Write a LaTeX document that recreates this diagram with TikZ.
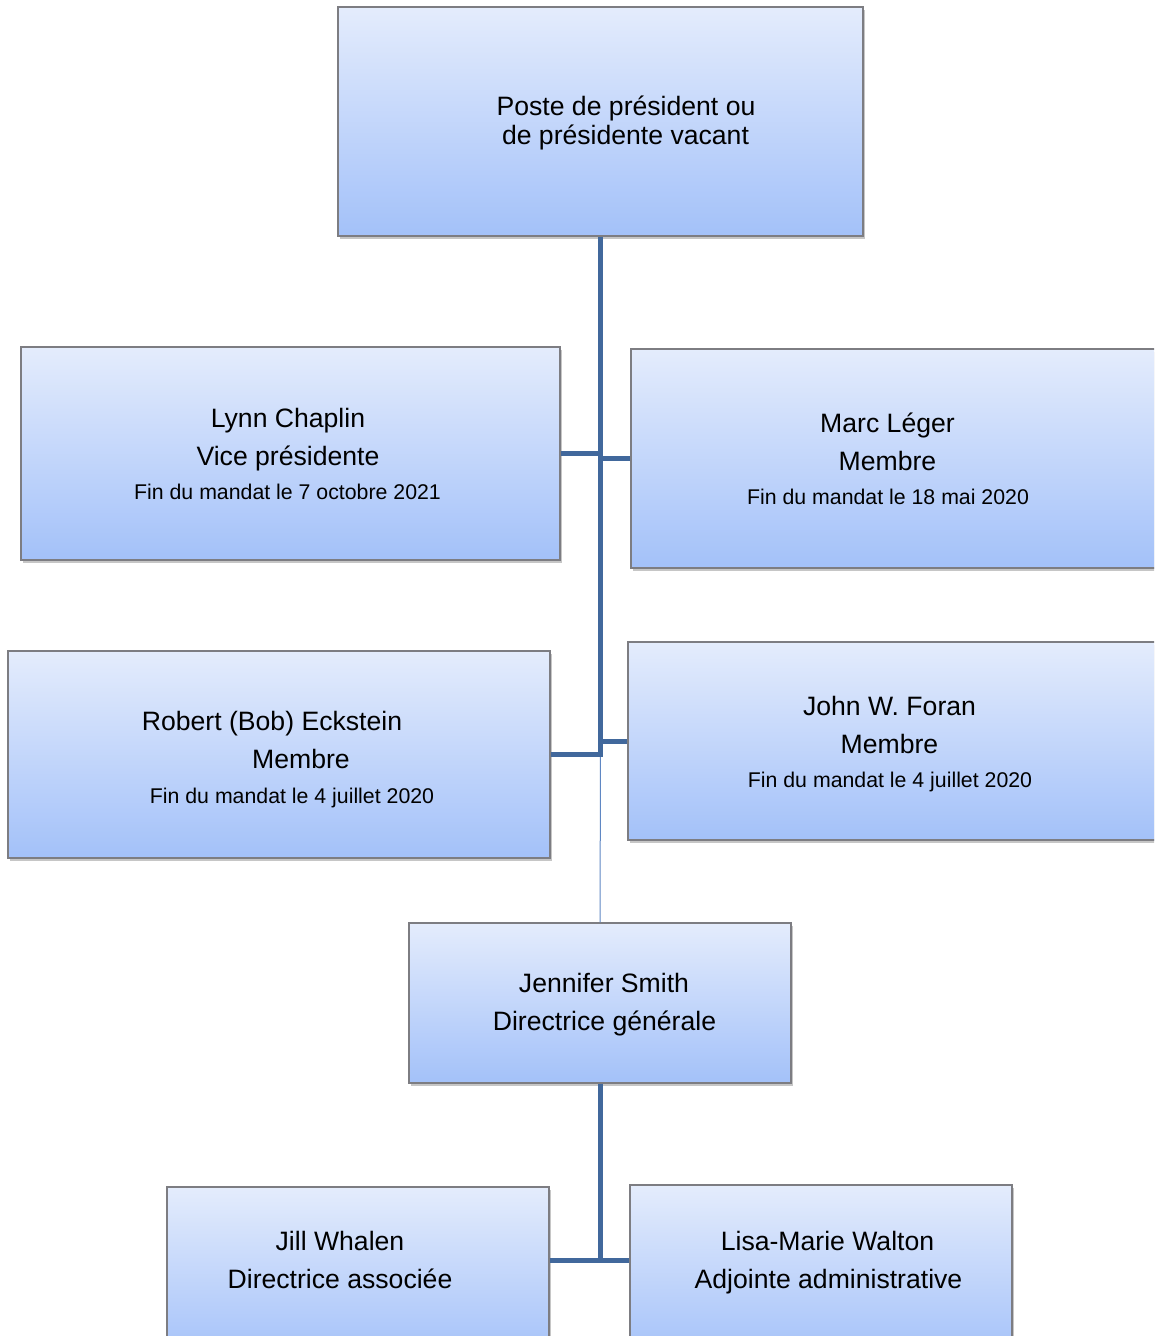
\documentclass[tikz,border=0pt]{standalone}
\usepackage{fontspec}
\setmainfont{Liberation Sans}
\usetikzlibrary{shadows}
\definecolor{linkblue}{RGB}{65,104,156}
\definecolor{thinblue}{RGB}{95,135,195}
\definecolor{boxtop}{RGB}{228,236,252}
\definecolor{boxbot}{RGB}{163,193,249}
\definecolor{boxedge}{RGB}{125,125,130}
\begin{document}
\begin{tikzpicture}[x=1pt,y=-1pt,
  orgbox/.style={draw=boxedge, line width=1.2pt, top color=boxtop, bottom color=boxbot,
    drop shadow={shadow xshift=2pt, shadow yshift=-2.5pt, opacity=0.45}, inner sep=0pt},
  big/.style={font=\fontsize{26.6}{29}\selectfont, inner sep=0pt, anchor=base},
  small/.style={font=\fontsize{21.3}{24}\selectfont, inner sep=0pt, anchor=base},
  conn/.style={draw=linkblue, line width=5pt},
  thinconn/.style={draw=thinblue, line width=1pt}]
\useasboundingbox (0,0) rectangle (1154,1336);
\clip (0,0) rectangle (1154,1336);

% boxes
\node[orgbox, minimum width=525pt, minimum height=229pt] (top) at (600.5,121.5) {};
\node[orgbox, minimum width=539pt, minimum height=213pt] (lynn) at (290.5,453.5) {};
\node[orgbox, minimum width=539pt, minimum height=219pt] (marc) at (900.5,458.5) {};
\node[orgbox, minimum width=542pt, minimum height=207pt] (robert) at (279,754.5) {};
\node[orgbox, minimum width=542pt, minimum height=198pt] (john) at (899,741) {};
\node[orgbox, minimum width=382pt, minimum height=160pt] (jen) at (600,1003) {};
\node[orgbox, minimum width=382pt, minimum height=173pt] (jill) at (358,1273.5) {};
\node[orgbox, minimum width=382pt, minimum height=175pt] (lisa) at (821,1272.5) {};

% connectors
\draw[thinconn] (top.south |- robert.east) -- (jen.north);
\draw[conn] (top.south) |- (robert.east);
\draw[conn] (lynn.east) -- (lynn.east -| top.south);
\draw[conn] (marc.west) -- (marc.west -| top.south);
\draw[conn] (john.west) -- (john.west -| top.south);
\coordinate (staff) at (601,1260);
\draw[conn] (jen.south) -- (jen.south |- staff);
\draw[conn] (jill.east |- staff) -- (lisa.west |- staff);

% labels
\node[big] (t1) at (626,115) {Poste de président ou};
\node[big] (t2) at (625.5,144) {de présidente vacant};

\node[big] (l1) at (288,427) {Lynn Chaplin};
\node[big] (l2) at (288,465) {Vice présidente};
\node[small] (l3) at (287.5,499) {Fin du mandat le 7 octobre 2021};

\node[big] (m1) at (887.5,432) {Marc Léger};
\node[big] (m2) at (887.5,470) {Membre};
\node[small] (m3) at (888,504) {Fin du mandat le 18 mai 2020};

\node[big] (r1) at (272,730) {Robert (Bob) Eckstein};
\node[big] (r2) at (301,768) {Membre};
\node[small] (r3) at (292,803) {Fin du mandat le 4 juillet 2020};

\node[big] (j1) at (889.5,715) {John W. Foran};
\node[big] (j2) at (889.5,753) {Membre};
\node[small] (j3) at (890,787) {Fin du mandat le 4 juillet 2020};

\node[big] (s1) at (604,992) {Jennifer Smith};
\node[big] (s2) at (604.5,1030) {Directrice générale};

\node[big] (w1) at (340,1250) {Jill Whalen};
\node[big] (w2) at (340,1288) {Directrice associée};

\node[big] (a1) at (827.5,1250) {Lisa-Marie Walton};
\node[big] (a2) at (828.5,1288) {Adjointe administrative};
\end{tikzpicture}
\end{document}
